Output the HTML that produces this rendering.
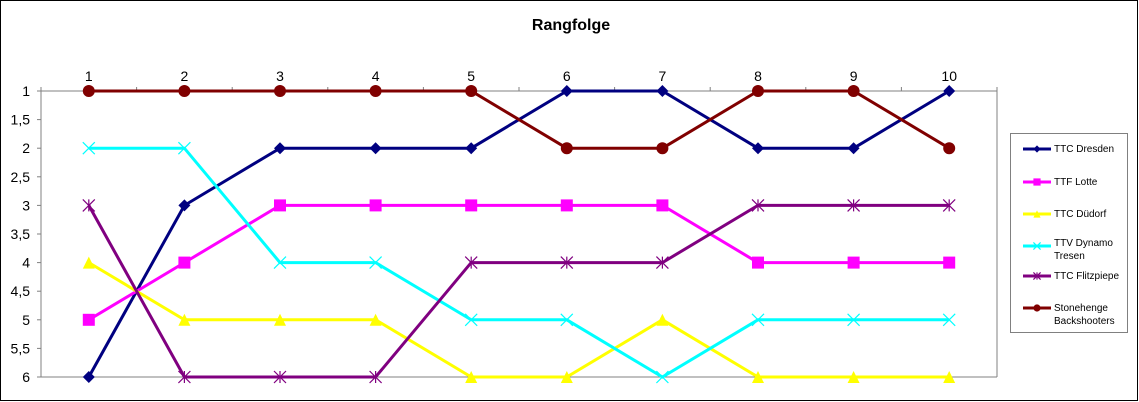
<!DOCTYPE html>
<html><head><meta charset="utf-8"><style>
html,body{margin:0;padding:0;background:#fff;}
svg{display:block;font-family:"Liberation Sans",Arial,sans-serif;}
</style></head><body>
<svg id="s" width="1139" height="402" viewBox="0 0 1139 402" xmlns="http://www.w3.org/2000/svg">
<rect x="0.5" y="0.5" width="1137" height="400" fill="#fff" stroke="#000"/>
<text x="571" y="30" font-size="16" font-weight="bold" text-anchor="middle">Rangfolge</text>
<g id="ax"></g>
<g id="ser"></g>
<rect x="1010.5" y="133.5" width="117" height="199" fill="#fff" stroke="#808080"/>
<g font-size="10">
<text x="1054" y="152">TTC Dresden</text>
<text x="1054" y="185">TTF Lotte</text>
<text x="1054" y="217">TTC Düdorf</text>
<text x="1054" y="246">TTV Dynamo</text>
<text x="1054" y="259">Tresen</text>
<text x="1054" y="279">TTC Flitzpiepe</text>
<text x="1054" y="311">Stonehenge</text>
<text x="1054" y="324">Backshooters</text>
</g>
<g id="leg"></g>
</svg>
<script>
var NS="http://www.w3.org/2000/svg";
function el(p,t,a){var e=document.createElementNS(NS,t);for(var k in a)e.setAttribute(k,a[k]);p.appendChild(e);return e;}
var ax=document.getElementById('ax'),ser=document.getElementById('ser'),leg=document.getElementById('leg');
function X(i){return 88.8+95.6*i;} function Y(v){return 91+(v-1)*57.2;}
el(ax,'line',{x1:41,y1:91,x2:997,y2:91,stroke:'#808080'});
el(ax,'line',{x1:997,y1:91,x2:997,y2:377,stroke:'#808080'});
el(ax,'line',{x1:41,y1:377,x2:997,y2:377,stroke:'#808080'});
el(ax,'line',{x1:41,y1:91,x2:41,y2:377,stroke:'#808080'});
for(var i=0;i<=10;i++){el(ax,'line',{x1:41+95.6*i,y1:87,x2:41+95.6*i,y2:91,stroke:'#808080'});}
for(var i=0;i<10;i++){var t=el(ax,'text',{x:X(i),y:81,'font-size':14,'text-anchor':'middle'});t.textContent=i+1;}
var labs=['1','1,5','2','2,5','3','3,5','4','4,5','5','5,5','6'];
for(var i=0;i<11;i++){var y=91+28.6*i;el(ax,'line',{x1:37,y1:y,x2:41,y2:y,stroke:'#808080'});var t=el(ax,'text',{x:30,y:y+5,'font-size':14,'text-anchor':'end'});t.textContent=labs[i];}
var S=[
['#000080','d',[6,3,2,2,2,1,1,2,2,1]],
['#ff00ff','s',[5,4,3,3,3,3,3,4,4,4]],
['#ffff00','t',[4,5,5,5,6,6,5,6,6,6]],
['#00ffff','x',[2,2,4,4,5,5,6,5,5,5]],
['#800080','a',[3,6,6,6,4,4,4,3,3,3]],
['#800000','c',[1,1,1,1,1,2,2,1,1,2]]];
function mk(g,c,m,x,y,sc){var r=6*sc;
if(m=='d')el(g,'polygon',{points:[x,y-r,x+r,y,x,y+r,x-r,y].join(','),fill:c});
if(m=='s')el(g,'rect',{x:x-r,y:y-r,width:2*r,height:2*r,fill:c});
if(m=='t')el(g,'polygon',{points:[x,y-r,x+r,y+r,x-r,y+r].join(','),fill:c});
if(m=='c')el(g,'circle',{cx:x,cy:y,r:r,fill:c});
if(m=='x'||m=='a'){el(g,'path',{d:'M'+(x-r)+' '+(y-r)+'L'+(x+r)+' '+(y+r)+'M'+(x-r)+' '+(y+r)+'L'+(x+r)+' '+(y-r)+(m=='a'?'M'+x+' '+(y-r)+'L'+x+' '+(y+r):''),stroke:c,'stroke-width':1.2,fill:'none'});}
}
var ly=[149,182,214,246,276,308];
S.forEach(function(s,k){
 var pts=s[2].map(function(v,i){return X(i)+','+Y(v);}).join(' ');
 el(ser,'polyline',{points:pts,fill:'none',stroke:s[0],'stroke-width':3});
 s[2].forEach(function(v,i){mk(ser,s[0],s[1],X(i),Y(v),1);});
 el(leg,'line',{x1:1023,y1:ly[k],x2:1051,y2:ly[k],stroke:s[0],'stroke-width':3});
 mk(leg,s[0],s[1],1037,ly[k],0.6);
});
</script>
</body></html>
